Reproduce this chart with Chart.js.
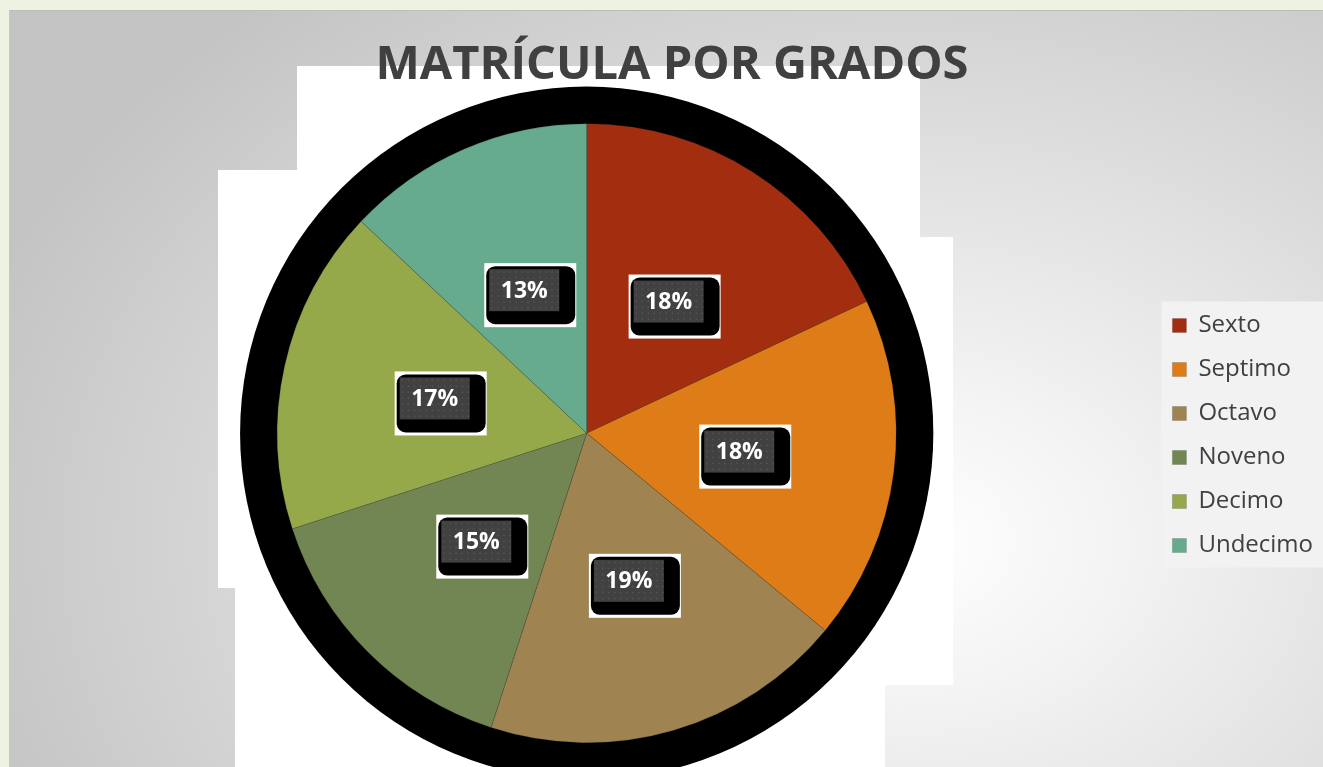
<!DOCTYPE html>
<html>
<head>
<meta charset="utf-8">
<script src="https://cdn.jsdelivr.net/npm/chart.js@4.4.1/dist/chart.umd.min.js"></script>
<style>
  html, body { margin: 0; padding: 0; }
  body { width: 1323px; height: 767px; background: #eef2e2; position: relative; overflow: hidden; }
  #slide {
    position: absolute; left: 9px; top: 10px; width: 1314px; height: 757px;
    border-top: 1px solid #bdbdbd; border-left: 1px solid #c6c6c6;
    background: radial-gradient(ellipse 75% 95% at 68% 70%, #ffffff 0%, #f3f3f3 22%, #c3c3c3 100%);
  }
  .patch { position: absolute; background: #ffffff; }
  #wrap { position: absolute; left: 0; top: 0; width: 1323px; height: 767px; }
</style>
</head>
<body>
<div id="slide"></div>
<div class="patch" style="left:297px;top:66px;width:623px;height:619px"></div>
<div class="patch" style="left:920px;top:237px;width:33px;height:448px"></div>
<div class="patch" style="left:218px;top:170px;width:79px;height:418px"></div>
<div class="patch" style="left:235px;top:587px;width:650px;height:180px"></div>
<div id="wrap"><canvas id="pieChart" width="1323" height="767"></canvas></div>
<script>
const grados = ["Sexto", "Septimo", "Octavo", "Noveno", "Decimo", "Undecimo"];
const porcentajes = [18, 18, 19, 15, 17, 13];
const colores = ["#a32e0f", "#de7d18", "#9f8351", "#718652", "#95a94b", "#67ab8f"];
const titulo = "MATRÍCULA POR GRADOS";

// black blocky shadow behind the pie
const pieShadow = {
  id: "pieShadow",
  beforeDatasetsDraw(chart) {
    const arc = chart.getDatasetMeta(0).data[0];
    if (!arc) return;
    const ctx = chart.ctx;
    ctx.save();
    ctx.fillStyle = "#000";
    ctx.beginPath();
    ctx.arc(arc.x, arc.y, arc.outerRadius * 1.12, 0, Math.PI * 2);
    ctx.fill();
    ctx.restore();
  },
};

// dark percentage tags in each slice
const sliceTags = {
  id: "sliceTags",
  afterDatasetsDraw(chart) {
    const meta = chart.getDatasetMeta(0);
    const ctx = chart.ctx;
    const total = porcentajes.reduce((s, v) => s + v, 0);
    meta.data.forEach((arc, i) => {
      const mid = (arc.startAngle + arc.endAngle) / 2;
      const r = arc.outerRadius * 0.5;
      const x = arc.x + Math.cos(mid) * r;
      const y = arc.y + Math.sin(mid) * r;
      ctx.save();
      ctx.fillStyle = "#fff";
      ctx.fillRect(x - 41, y - 28, 92, 64);
      ctx.fillStyle = "#000";
      ctx.beginPath();
      ctx.roundRect(x - 39, y - 25, 89, 58, 9);
      ctx.fill();
      ctx.fillStyle = "#414141";
      ctx.fillRect(x - 36, y - 22, 70, 42);
      ctx.fillStyle = "#555";
      for (let dx = -34; dx < 34; dx += 6) {
        for (let dy = -20; dy < 20; dy += 6) ctx.fillRect(x + dx, y + dy, 1.5, 1.5);
      }
      ctx.fillStyle = "#fff";
      ctx.font = "bold 23px 'Open Sans'";
      ctx.textAlign = "center";
      ctx.textBaseline = "middle";
      ctx.fillText(Math.round((porcentajes[i] / total) * 100) + "%", x - 1, y);
      ctx.restore();
    });
  },
};

// light box behind the legend
const legendBox = {
  id: "legendBox",
  beforeDraw(chart) {
    const lg = chart.legend;
    if (!lg || !lg.legendHitBoxes.length) return;
    const hb = lg.legendHitBoxes;
    const top = hb[0].top - 12;
    const bottom = hb[hb.length - 1].top + hb[hb.length - 1].height + 10;
    const ctx = chart.ctx;
    ctx.save();
    ctx.fillStyle = "#f2f2f2";
    ctx.fillRect(hb[0].left - 11, top, chart.width - hb[0].left + 11, bottom - top);
    ctx.restore();
  },
};

new Chart(document.getElementById("pieChart"), {
  type: "pie",
  data: {
    labels: grados,
    datasets: [
      {
        data: porcentajes,
        backgroundColor: colores,
        borderWidth: 0.6,
        borderColor: "rgba(60,60,60,0.35)",
        hoverOffset: 0,
      },
    ],
  },
  options: {
    responsive: false,
    animation: false,
    layout: { padding: { left: 21, right: 0, top: 0, bottom: 24 } },
    plugins: {
      title: {
        display: true,
        text: titulo,
        color: "#404040",
        font: { family: "'Open Sans'", size: 47, weight: "bold", lineHeight: 1.2 },
        padding: { top: 37, bottom: 30 },
      },
      legend: {
        position: "right",
        title: {
          display: true,
          text: " ",
          font: { size: 10, lineHeight: 1.2 },
          padding: { top: 0, bottom: 116 },
        },
        labels: {
          color: "#404040",
          font: { family: "'Open Sans'", size: 24 },
          boxWidth: 14,
          boxHeight: 14,
          padding: 20,
        },
      },
      tooltip: { enabled: false },
    },
  },
  plugins: [pieShadow, sliceTags, legendBox],
});
</script>
</body>
</html>
